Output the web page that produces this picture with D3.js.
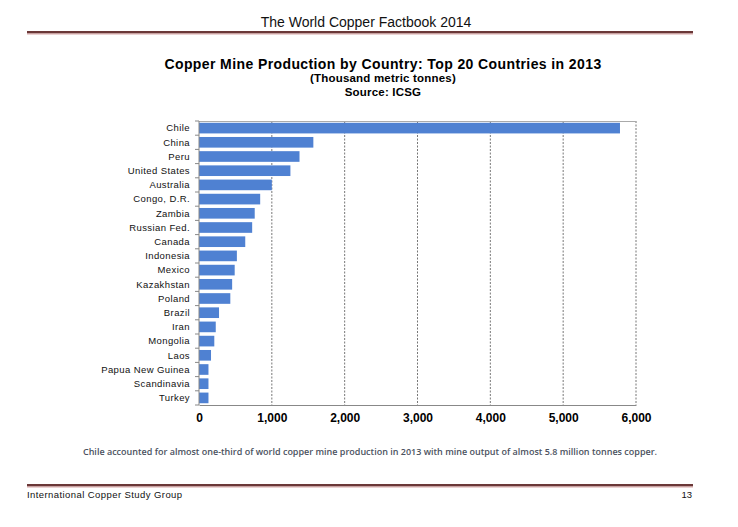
<!DOCTYPE html>
<html><head><meta charset="utf-8">
<script src="https://cdn.jsdelivr.net/npm/d3@7"></script>
<style>body{margin:0;background:#fff}</style>
</head><body>
<svg id="c" width="738" height="527"></svg>
<script>
const countries = ["Chile","China","Peru","United States","Australia","Congo, D.R.","Zambia","Russian Fed.","Canada","Indonesia","Mexico","Kazakhstan","Poland","Brazil","Iran","Mongolia","Laos","Papua New Guinea","Scandinavia","Turkey"];
const production = [5780,1570,1380,1255,1000,840,765,730,635,520,490,455,430,275,230,210,165,130,130,130];
const xTicks = [0,1000,2000,3000,4000,5000,6000];

(function(){
const svg = d3.select("#c");
const pL = 199, pR = 636, pT = 121, pB = 405;

// header
svg.append("text").attr("x",366).attr("y",27).attr("text-anchor","middle")
  .attr("font-family","Liberation Sans, Arial").attr("font-size",14)
  .attr("fill","#111").text("The World Copper Factbook 2014");
svg.append("rect").attr("x",27).attr("y",31).attr("width",666).attr("height",2.5).attr("fill","#6b3838");
svg.append("rect").attr("x",27).attr("y",33.5).attr("width",666).attr("height",1).attr("fill","#d9a8a8");

// titles
svg.append("text").attr("x",383).attr("y",69).attr("text-anchor","middle")
  .attr("font-family","Liberation Sans, Arial").attr("font-weight","bold").attr("font-size",14).attr("letter-spacing",0.4)
  .attr("fill","#000").text("Copper Mine Production by Country: Top 20 Countries in 2013");
svg.append("text").attr("x",383).attr("y",82).attr("text-anchor","middle")
  .attr("font-family","Liberation Sans, Arial").attr("font-weight","bold").attr("font-size",11.5).attr("letter-spacing",0.2)
  .attr("fill","#000").text("(Thousand metric tonnes)");
svg.append("text").attr("x",383).attr("y",96).attr("text-anchor","middle")
  .attr("font-family","Liberation Sans, Arial").attr("font-weight","bold").attr("font-size",11.5).attr("letter-spacing",0.2)
  .attr("fill","#000").text("Source: ICSG");

const x = d3.scaleLinear().domain([0,6000]).range([pL,pR]);
const y = d3.scaleBand().domain(countries).range([pT,pB]).paddingInner(0.25).paddingOuter(0.125);

// gridlines
svg.append("g").selectAll("line").data(xTicks.slice(1)).join("line")
  .attr("x1",d=>x(d)).attr("x2",d=>x(d)).attr("y1",pT).attr("y2",pB)
  .attr("stroke","#777").attr("stroke-width",1).attr("stroke-dasharray","2,1.5");
svg.append("line").attr("x1",pL).attr("x2",pR).attr("y1",pT+0.5).attr("y2",pT+0.5)
  .attr("stroke","#aaa").attr("stroke-width",1);

// bars
svg.append("g").selectAll("rect").data(countries).join("rect")
  .attr("x",x(0)).attr("y",d=>y(d)).attr("height",y.bandwidth())
  .attr("width",(d,i)=>x(production[i])-x(0)).attr("fill","#4f81d2");

// y axis
const step = y.step();
const yAx = svg.append("g");
yAx.append("line").attr("x1",pL).attr("x2",pL).attr("y1",pT).attr("y2",pB).attr("stroke","#888");
yAx.selectAll("line.t").data(d3.range(countries.length+1)).join("line").attr("class","t")
  .attr("x1",pL-4).attr("x2",pL).attr("y1",i=>pT+i*step).attr("y2",i=>pT+i*step).attr("stroke","#888");
yAx.selectAll("text").data(countries).join("text")
  .attr("x",190).attr("y",d=>y(d)+y.bandwidth()/2).attr("dy","0.35em").attr("text-anchor","end")
  .attr("font-family","Liberation Sans, Arial").attr("font-size",9.5).attr("letter-spacing",0.4)
  .attr("fill","#111").text(d=>d);

// x axis
const xAx = svg.append("g").attr("transform",`translate(0,${pB})`)
  .call(d3.axisBottom(x).tickValues(xTicks).tickFormat(d3.format(",")).tickSize(0).tickPadding(8));
xAx.select(".domain").attr("stroke","#888");
xAx.selectAll("text").attr("font-family","Liberation Sans, Arial").attr("font-weight","bold")
  .attr("font-size",12).attr("fill","#000");

// caption
svg.append("text").attr("x",370).attr("y",455).attr("text-anchor","middle")
  .attr("font-family","Open Sans, Liberation Sans").attr("font-weight","600").attr("font-size",9)
  .attr("fill","#4b5260").text("Chile accounted for almost one-third of world copper mine production in 2013 with mine output of almost 5.8 million tonnes copper.");

// footer
svg.append("rect").attr("x",27).attr("y",484).attr("width",666).attr("height",2.5).attr("fill","#6b3838");
svg.append("rect").attr("x",27).attr("y",486.5).attr("width",666).attr("height",1).attr("fill","#d9a8a8");
svg.append("text").attr("x",27).attr("y",498).attr("font-family","Liberation Sans, Arial")
  .attr("font-size",9.5).attr("letter-spacing",0.42).attr("fill","#111").text("International Copper Study Group");
svg.append("text").attr("x",692).attr("y",498).attr("text-anchor","end").attr("font-family","Liberation Sans, Arial")
  .attr("font-size",9.5).attr("fill","#111").text("13");
})();
</script>
</body></html>
